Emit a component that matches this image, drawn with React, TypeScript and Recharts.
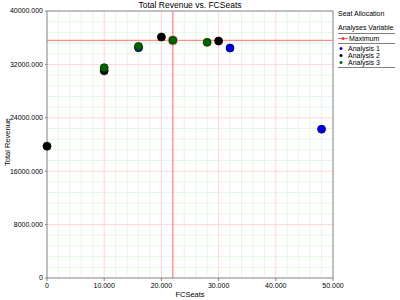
import React from 'react';
import { ScatterChart, Scatter, XAxis, YAxis, ReferenceLine } from 'recharts';

const xTicks = [0, 10000, 20000, 30000, 40000, 50000];
const yTicks = [0, 8000, 16000, 24000, 32000, 40000];
const xMinor = [2000, 4000, 6000, 8000, 12000, 14000, 16000, 18000, 22000, 24000, 26000, 28000, 32000, 34000, 36000, 38000, 42000, 44000, 46000, 48000];
const yMinor = [1600, 3200, 4800, 6400, 9600, 11200, 12800, 14400, 17600, 19200, 20800, 22400, 25600, 27200, 28800, 30400, 33600, 35200, 36800, 38400];

const maxX = 22000;
const maxY = 35600;
const maximumPoint = [{ x: 22000, y: 35600 }];

const analysis1 = [
  { x: 16000, y: 34500 },
  { x: 32000, y: 34450 },
  { x: 48000, y: 22300 },
];
const analysis2 = [
  { x: 0, y: 19750 },
  { x: 10000, y: 31050 },
  { x: 20000, y: 36100 },
  { x: 30000, y: 35500 },
];
const analysis3 = [
  { x: 10000, y: 31500 },
  { x: 16000, y: 34700 },
  { x: 22000, y: 35600 },
  { x: 28000, y: 35300 },
];

const seriesNames = ['Analysis 1', 'Analysis 2', 'Analysis 3'];
const seriesColors = ['#0000ee', '#000000', '#006400'];

const FONT = '"Liberation Sans", Arial, sans-serif';

const fmtX = (v: number) => (v === 0 ? '0' : (v / 1000).toFixed(0) + '.000');

const dot = (color: string, r: number, stroke: string) => (props: any) => (
  <circle cx={props.cx} cy={props.cy} r={r} fill={color} stroke={stroke} strokeWidth={0.8} />
);

export default function App() {
  return (
    <div style={{ position: 'absolute', left: 0, top: 0, width: 400, height: 300, fontFamily: FONT, background: '#fff' }}>
      <ScatterChart width={400} height={300} margin={{ top: 11, right: 67, bottom: 0, left: 0 }}>
        <XAxis
          type="number"
          dataKey="x"
          domain={[0, 50000]}
          ticks={xTicks}
          tickFormatter={fmtX}
          height={22}
          stroke="#808080"
          tick={{ fontSize: 7, fill: '#000', fontFamily: FONT }}
          tickSize={3}
          interval={0}
        />
        <YAxis
          type="number"
          dataKey="y"
          domain={[0, 40000]}
          ticks={yTicks}
          tickFormatter={(v: number) => (v === 0 ? '0' : v.toFixed(3))}
          width={47}
          stroke="#808080"
          tick={{ fontSize: 7, fill: '#000', fontFamily: FONT }}
          tickSize={2}
          interval={0}
        />
        {xMinor.map((v) => (
          <ReferenceLine key={'xm' + v} x={v} stroke="#e4f7e4" strokeWidth={1} />
        ))}
        {yMinor.map((v) => (
          <ReferenceLine key={'ym' + v} y={v} stroke="#e4f7e4" strokeWidth={1} />
        ))}
        {xTicks.slice(1, -1).map((v) => (
          <ReferenceLine key={'xM' + v} x={v} stroke="#ffd6d6" strokeWidth={1} />
        ))}
        {yTicks.slice(1, -1).map((v) => (
          <ReferenceLine key={'yM' + v} y={v} stroke="#ffd6d6" strokeWidth={1} />
        ))}
        <ReferenceLine x={50000} stroke="#808080" strokeWidth={1} />
        <ReferenceLine y={40000} stroke="#808080" strokeWidth={1} />
        <ReferenceLine x={maxX} stroke="#ff8a8a" strokeWidth={1.3} />
        <ReferenceLine y={maxY} stroke="#ff8a8a" strokeWidth={1.3} />
        <Scatter data={maximumPoint} isAnimationActive={false} shape={dot('#ffb8b8', 5.5, 'none')} />
        <Scatter data={analysis1} isAnimationActive={false} shape={dot(seriesColors[0], 4, '#000044')} />
        <Scatter data={analysis2} isAnimationActive={false} shape={dot(seriesColors[1], 4, '#000')} />
        <Scatter data={analysis3} isAnimationActive={false} shape={dot(seriesColors[2], 4, '#003000')} />
      </ScatterChart>
      <div style={{ position: 'absolute', left: 0, width: 380, top: 0, textAlign: 'center', fontSize: 8.5, lineHeight: '10px' }}>
        Total Revenue vs. FCSeats
      </div>
      <div style={{ position: 'absolute', left: 0, width: 380, top: 290, textAlign: 'center', fontSize: 7.5, lineHeight: '9px' }}>
        FCSeats
      </div>
      <div
        style={{
          position: 'absolute',
          left: 7,
          top: 142,
          fontSize: 7.5,
          lineHeight: '9px',
          transform: 'translate(-50%, -50%) rotate(-90deg)',
          whiteSpace: 'nowrap',
        }}
      >
        Total Revenue
      </div>
      <div style={{ position: 'absolute', left: 338, top: 10, width: 57, fontSize: 7, lineHeight: '7px', whiteSpace: 'nowrap' }}>
        <div style={{ height: 14 }}>Seat Allocation</div>
        <div style={{ borderBottom: '1px solid #808080', paddingBottom: 1, height: 8 }}>Analyses Variable</div>
        <div style={{ borderBottom: '1px solid #808080', paddingBottom: 1, paddingTop: 1, height: 7, display: 'flex', alignItems: 'center' }}>
          <svg width={10} height={7}>
            <line x1={0} y1={3.5} x2={10} y2={3.5} stroke="#ff6060" strokeWidth={1} />
            <circle cx={5} cy={3.5} r={1.5} fill="#ff3030" />
          </svg>
          <span style={{ marginLeft: 1 }}>Maximum</span>
        </div>
        <div style={{ borderBottom: '1px solid #808080', paddingBottom: 1, paddingTop: 1 }}>
          {seriesNames.map((n, i) => (
            <div key={n} style={{ display: 'flex', alignItems: 'center', height: 7 }}>
              <svg width={10} height={7}>
                <circle cx={3} cy={3.5} r={1.5} fill={seriesColors[i]} />
              </svg>
              <span>{n}</span>
            </div>
          ))}
        </div>
      </div>
    </div>
  );
}
